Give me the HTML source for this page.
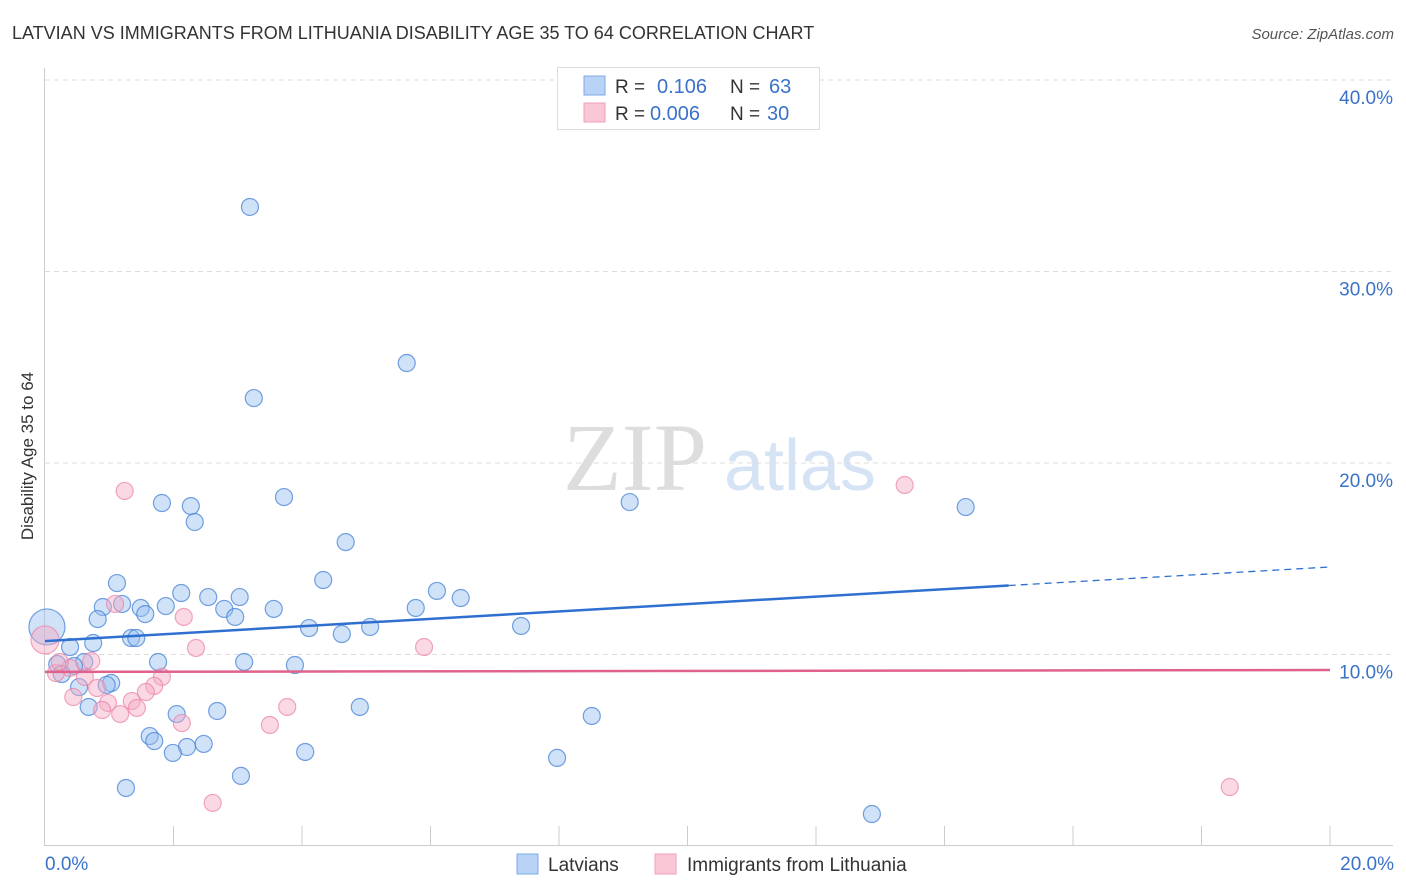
<!DOCTYPE html>
<html><head><meta charset="utf-8"><style>
body{margin:0;background:#fff;font-family:"Liberation Sans",sans-serif;}
#wrap{position:relative;width:1406px;height:892px;overflow:hidden;}
</style></head><body>
<div id="wrap">
<svg id="svg" width="1406" height="892" xmlns="http://www.w3.org/2000/svg">
<text x="12" y="39" font-size="18" fill="#333">LATVIAN VS IMMIGRANTS FROM LITHUANIA DISABILITY AGE 35 TO 64 CORRELATION CHART</text>
<text x="1394" y="39" font-size="15" fill="#555" font-style="italic" text-anchor="end">Source: ZipAtlas.com</text>
<text transform="translate(33,456) rotate(-90)" font-size="17" fill="#333" text-anchor="middle">Disability Age 35 to 64</text>
<g><text x="635" y="490" font-size="96" fill="#ddd" font-family="Liberation Serif,serif" text-anchor="middle">ZIP</text><text x="800" y="490" font-size="72" fill="#d5e3f5" text-anchor="middle">atlas</text></g>
<g id="grid"></g><g id="axes"></g><g id="pts"></g><g id="lines"></g>
<g>
<rect x="557.5" y="67.5" width="262" height="62" fill="#fff" stroke="#ddd"/>
<rect x="584" y="76" width="21" height="19" fill="#b8d3f5" stroke="#7fa9e6"/>
<rect x="584" y="103" width="21" height="19" fill="#f9c7d5" stroke="#eea0b8"/>
<text x="615" y="93" font-size="19" fill="#333">R = </text><text x="657" y="93" font-size="20" fill="#3a72c8">0.106</text>
<text x="730" y="93" font-size="19" fill="#333">N = </text><text x="769" y="93" font-size="20" fill="#3a72c8">63</text>
<text x="615" y="120" font-size="19" fill="#333">R = </text><text x="650" y="120" font-size="20" fill="#3a72c8">0.006</text>
<text x="730" y="120" font-size="19" fill="#333">N = </text><text x="767" y="120" font-size="20" fill="#3a72c8">30</text>
</g>
<g>
<rect x="517" y="854" width="21" height="20" fill="#b8d3f5" stroke="#7fa9e6"/>
<text x="548" y="871" font-size="19" fill="#333">Latvians</text>
<rect x="655" y="854" width="21" height="20" fill="#f9c7d5" stroke="#eea0b8"/>
<text x="687" y="871" font-size="19" fill="#333">Immigrants from Lithuania</text>
</g>
</svg>
</div>
<script>
const blueX=[3.19,5.63,3.25,1.82,2.27,2.33,3.72,4.68,9.10,14.33,1.12,4.33,2.12,6.10,6.47,2.54,3.03,0.90,1.20,1.49,1.88,3.56,5.77,1.56,2.79,2.96,0.82,4.11,5.06,7.41,4.62,1.34,1.42,0.75,0.39,1.76,3.10,3.89,0.19,0.61,0.45,0.26,1.03,0.53,0.96,0.68,2.05,2.68,4.90,8.51,1.63,1.70,2.21,2.47,1.99,4.05,7.97,3.05,1.26,12.87];
const blueY=[33.37,25.22,23.39,17.91,17.75,16.92,18.22,15.87,17.96,17.70,13.73,13.89,13.21,13.32,12.95,13.00,13.00,12.48,12.64,12.43,12.53,12.38,12.43,12.11,12.38,11.96,11.85,11.38,11.44,11.49,11.07,10.86,10.86,10.60,10.39,9.61,9.61,9.45,9.50,9.61,9.40,8.98,8.51,8.30,8.41,7.26,6.89,7.05,7.26,6.79,5.74,5.48,5.17,5.33,4.86,4.91,4.60,3.66,3.03,1.67];
const pinkX=[1.24,13.38,2.16,1.09,2.35,5.90,0.72,0.17,0.39,0.62,1.82,0.81,1.70,1.57,0.44,1.35,0.98,1.43,0.89,1.17,2.13,3.77,3.50,2.61,18.44,0.23];
const pinkY=[18.54,18.85,11.96,12.64,10.34,10.39,9.66,9.03,9.30,8.83,8.83,8.25,8.36,8.04,7.78,7.57,7.47,7.21,7.10,6.89,6.42,7.26,6.32,2.25,3.08,9.61];
const bigBlue=[0.03,11.44], bigPink=[0.0,10.76];
const blueTrend=[10.70,14.57], pinkTrend=[9.09,9.19];
const yTicks=[10,20,30,40], yTickLabels=["10.0%","20.0%","30.0%","40.0%"];
const xTickLabels=["0.0%","20.0%"];
const NS="http://www.w3.org/2000/svg";
const X=v=>45+v/20*1285, Y=v=>846-v*19.15;
function mk(t,a,p){const e=document.createElementNS(NS,t);for(const k in a)e.setAttribute(k,a[k]);p.appendChild(e);return e;}
const grid=document.getElementById('grid'),axes=document.getElementById('axes'),pts=document.getElementById('pts'),lines=document.getElementById('lines');
yTicks.forEach((v,i)=>{const l=mk('line',{x1:45,x2:1393,y1:Y(v),y2:Y(v),stroke:'#ddd','stroke-dasharray':'5,4'},grid);


const t=mk('text',{x:1393,y:Y(v)+24,'font-size':19,fill:'#3a72c8','text-anchor':'end'},axes);t.textContent=yTickLabels[i];

});
const ax=mk('line',{x1:45,x2:1393,y1:845.5,y2:845.5,stroke:'#ccc'},axes);


const ay=mk('line',{x1:44.5,x2:44.5,y1:68,y2:846,stroke:'#ccc'},axes);


for(let i=1;i<=10;i++){const t=mk('line',{x1:X(i*2),x2:X(i*2),y1:826,y2:846,stroke:'#ccc'},axes);

}
[[0,'start',45],[20,'end',1394]].forEach((d,i)=>{const t=mk('text',{x:d[2],y:870,'font-size':19,fill:'#3a72c8','text-anchor':d[1]},axes);t.textContent=xTickLabels[i];

});
function dot(x,y,r,blue){const c=mk('circle',{cx:X(x),cy:Y(y),r:r,fill:blue?'rgba(150,190,240,0.45)':'rgba(245,170,195,0.45)',stroke:blue?'rgba(70,130,215,0.75)':'rgba(235,130,165,0.7)','stroke-width':1.2},pts);

}
dot(bigBlue[0],bigBlue[1],18,true);dot(bigPink[0],bigPink[1],14,false);
blueX.forEach((x,i)=>dot(x,blueY[i],8.5,true));
pinkX.forEach((x,i)=>dot(x,pinkY[i],8.5,false));
const bt=v=>blueTrend[0]+(blueTrend[1]-blueTrend[0])*v/20;
const l1=mk('line',{x1:X(0),y1:Y(bt(0)),x2:X(15),y2:Y(bt(15)),stroke:'#2f6fd0','stroke-width':2.5},lines);


const l2=mk('line',{x1:X(15),y1:Y(bt(15)),x2:X(20),y2:Y(bt(20)),stroke:'#2f6fd0','stroke-width':1.3,'stroke-dasharray':'7,5'},lines);


const l3=mk('line',{x1:X(0),y1:Y(pinkTrend[0]),x2:X(20),y2:Y(pinkTrend[1]),stroke:'#e0628c','stroke-width':2.5},lines);


</script>
</body></html>
